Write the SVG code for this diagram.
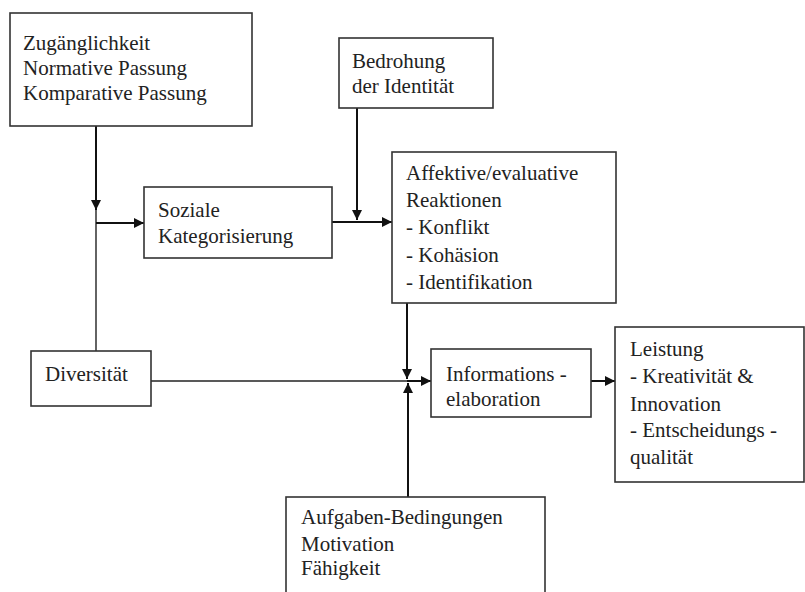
<svg xmlns="http://www.w3.org/2000/svg" width="805" height="592" viewBox="0 0 805 592">
<style>
.box{fill:#fff;stroke:#333;stroke-width:1.6}
text{font-family:'Liberation Serif','DejaVu Serif',serif;font-size:21px;fill:#222}
.c{stroke:#111;stroke-width:2;fill:none}
.th{stroke:#222;stroke-width:1.4;fill:none}
</style>
<defs>
<marker id="ah" viewBox="0 0 10 10" refX="10" refY="5" markerWidth="10" markerHeight="10" markerUnits="userSpaceOnUse" orient="auto">
<path d="M0,0 L10,5 L0,10 Z" fill="#111"/>
</marker>
</defs>
<g id="connectors">
<line class="c" x1="96" y1="126" x2="96" y2="210" marker-end="url(#ah)"/>
<line class="th" x1="96" y1="210" x2="96" y2="351"/>
<line class="c" x1="96" y1="223" x2="144" y2="223" marker-end="url(#ah)"/>
<line class="c" x1="332" y1="222" x2="392" y2="222" marker-end="url(#ah)"/>
<line class="c" x1="357" y1="108" x2="357" y2="220" marker-end="url(#ah)"/>
<line class="c" x1="407" y1="303" x2="407" y2="379" marker-end="url(#ah)"/>
<line class="th" x1="151" y1="381" x2="407" y2="381"/>
<line class="c" x1="408" y1="497" x2="408" y2="383" marker-end="url(#ah)"/>
<line class="c" x1="407" y1="381" x2="431" y2="381" marker-end="url(#ah)"/>
<line class="c" x1="591" y1="381" x2="615" y2="381" marker-end="url(#ah)"/>
</g>
<g id="zugaenglichkeit">
<rect class="box" x="10" y="13" width="242" height="113"/>
<text x="23" y="50" font-family="Liberation Serif, serif">Zugänglichkeit</text>
<text x="23" y="75" font-family="Liberation Serif, serif">Normative Passung</text>
<text x="23" y="100" font-family="Liberation Serif, serif">Komparative Passung</text>
</g>
<g id="soziale">
<rect class="box" x="144" y="187" width="188" height="71"/>
<text x="158" y="217">Soziale</text>
<text x="158" y="243">Kategorisierung</text>
</g>
<g id="bedrohung">
<rect class="box" x="339" y="38" width="154" height="70"/>
<text x="352" y="68">Bedrohung</text>
<text x="352" y="93">der Identität</text>
</g>
<g id="affektive">
<rect class="box" x="392" y="152" width="224" height="151"/>
<text x="406" y="180">Affektive/evaluative</text>
<text x="406" y="207">Reaktionen</text>
<text x="406" y="234">- Konflikt</text>
<text x="406" y="262">- Kohäsion</text>
<text x="406" y="289">- Identifikation</text>
</g>
<g id="diversitaet">
<rect class="box" x="31" y="351" width="120" height="55"/>
<text x="45" y="381">Diversität</text>
</g>
<g id="informations">
<rect class="box" x="431" y="349" width="160" height="68"/>
<text x="446" y="381">Informations -</text>
<text x="446" y="406">elaboration</text>
</g>
<g id="leistung">
<rect class="box" x="615" y="327" width="189" height="155"/>
<text x="630" y="356">Leistung</text>
<text x="630" y="383">- Kreativität &amp;</text>
<text x="630" y="411">Innovation</text>
<text x="630" y="437">- Entscheidungs -</text>
<text x="630" y="464">qualität</text>
</g>
<g id="aufgaben">
<rect class="box" x="286" y="497" width="259" height="110"/>
<text x="301" y="524">Aufgaben-Bedingungen</text>
<text x="301" y="551">Motivation</text>
<text x="301" y="575">Fähigkeit</text>
</g>
</svg>
